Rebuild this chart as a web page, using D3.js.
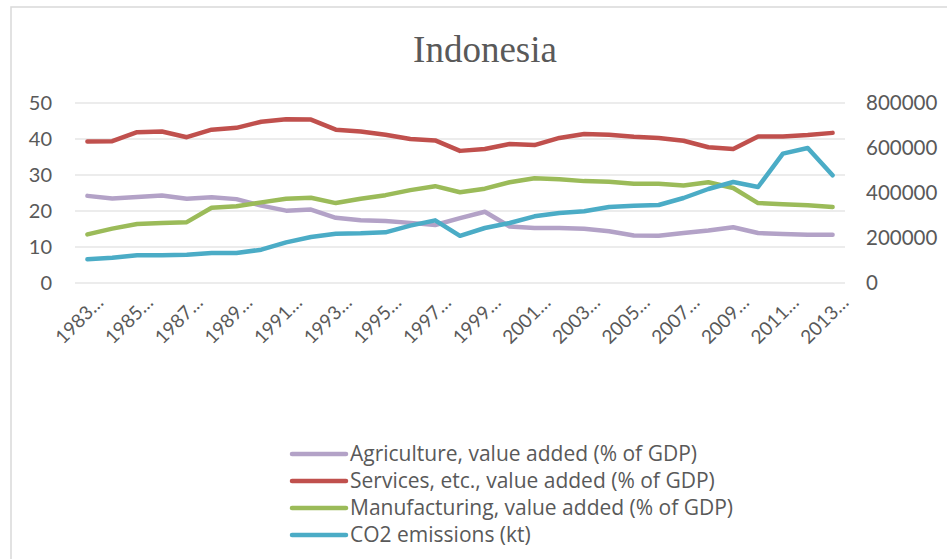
<!DOCTYPE html>
<html>
<head>
<meta charset="utf-8">
<script src="https://cdn.jsdelivr.net/npm/d3@7"></script>
<style>
  html, body { margin: 0; padding: 0; background: #fff; }
  svg { display: block; }
  text { font-family: Lato, "Open Sans", sans-serif; fill: #595959; }
</style>
</head>
<body>
<svg id="chart" width="947" height="559"></svg>
<script>
// Indonesia: sector value added (% of GDP) and CO2 emissions (kt), 1983-2013
const years = d3.range(1983, 2014);
const yearLabels = years.filter((y, i) => i % 2 === 0).map(String);

const agriculture = [24.2, 23.5, 23.9, 24.3, 23.4, 23.8, 23.3, 21.5, 20.1, 20.4,
  18.1, 17.4, 17.2, 16.7, 16.1, 18.0, 19.8, 15.7, 15.3, 15.3,
  15.1, 14.4, 13.2, 13.1, 13.9, 14.6, 15.5, 13.9, 13.6, 13.4, 13.4];
const services = [39.3, 39.4, 41.9, 42.1, 40.5, 42.6, 43.1, 44.8, 45.5, 45.4,
  42.6, 42.1, 41.2, 40.0, 39.6, 36.7, 37.2, 38.6, 38.3, 40.3,
  41.4, 41.2, 40.6, 40.3, 39.5, 37.7, 37.2, 40.7, 40.7, 41.1, 41.7];
const manufacturing = [13.5, 15.1, 16.4, 16.7, 16.9, 20.9, 21.3, 22.4, 23.4, 23.7,
  22.2, 23.4, 24.4, 25.8, 26.9, 25.2, 26.2, 28.0, 29.1, 28.8,
  28.3, 28.1, 27.6, 27.6, 27.1, 28.0, 26.4, 22.2, 21.9, 21.6, 21.1];
const co2 = [105200, 112600, 123000, 123000, 125900, 133300, 133300, 148100, 180700, 204400,
  219300, 220700, 225200, 254800, 278500, 209600, 244400, 266700, 296300, 311100,
  318500, 337800, 343700, 346700, 377800, 417800, 448900, 426700, 574800, 600000, 478500];

const leftTicks = [0, 10, 20, 30, 40, 50];
const rightTicks = [0, 200000, 400000, 600000, 800000];

const series = [
  { name: "Agriculture, value added (% of GDP)", values: agriculture, axis: "left", color: "#b3a2c7" },
  { name: "Services, etc., value added (% of GDP)", values: services, axis: "left", color: "#c0504d" },
  { name: "Manufacturing, value added (% of GDP)", values: manufacturing, axis: "left", color: "#9bbb59" },
  { name: "CO2 emissions (kt)", values: co2, axis: "right", color: "#4bacc6" }
];

const svg = d3.select("#chart");
const W = 947, H = 559;

// chart frame
svg.append("rect")
  .attr("x", 11).attr("y", 7)
  .attr("width", W + 10).attr("height", H + 10)
  .attr("fill", "#fff").attr("stroke", "#d9d9d9").attr("stroke-width", 1.5);

svg.append("text")
  .attr("x", 485).attr("y", 62)
  .attr("text-anchor", "middle")
  .style("font-family", "'Liberation Serif', 'Times New Roman', serif")
  .style("font-size", "37px")
  .text("Indonesia");

const plot = { left: 75, right: 845, top: 103, bottom: 283 };
const step = (plot.right - plot.left) / years.length;

const x = d3.scalePoint()
  .domain(years)
  .range([plot.left + step / 2, plot.right - step / 2]);
const yL = d3.scaleLinear().domain([0, 50]).range([plot.bottom, plot.top]);
const yR = d3.scaleLinear().domain([0, 800000]).range([plot.bottom, plot.top]);

// gridlines
svg.append("g")
  .selectAll("line")
  .data(leftTicks)
  .join("line")
  .attr("x1", plot.left).attr("x2", plot.right)
  .attr("y1", d => yL(d)).attr("y2", d => yL(d))
  .attr("stroke", "#d9d9d9").attr("stroke-width", 1.2);

// left axis labels
const leftAxis = d3.axisLeft(yL).tickValues(leftTicks).tickSize(0).tickPadding(0);
svg.append("g")
  .attr("transform", `translate(52,0)`)
  .call(leftAxis)
  .call(g => g.select(".domain").remove())
  .selectAll("text")
  .style("font-size", "20px").style("font-family", "Lato, sans-serif").attr("fill", "#595959");

// right axis labels
const rightAxis = d3.axisRight(yR).tickValues(rightTicks).tickFormat(d3.format("d"))
  .tickSize(0).tickPadding(0);
svg.append("g")
  .attr("transform", `translate(866,0)`)
  .call(rightAxis)
  .call(g => g.select(".domain").remove())
  .selectAll("text")
  .style("font-size", "20.5px").style("font-family", "Lato, sans-serif").attr("fill", "#595959");

// category labels, every second year, rotated
const bottomAxis = d3.axisBottom(x)
  .tickValues(years.filter((y, i) => i % 2 === 0))
  .tickFormat(d => yearLabels[years.indexOf(d) / 2] + "\u2026")
  .tickSize(0);
svg.append("g")
  .attr("transform", `translate(0,${plot.bottom})`)
  .call(bottomAxis)
  .call(g => g.select(".domain").remove())
  .selectAll("text")
  .style("font-size", "19px").style("font-family", "Lato, sans-serif").attr("fill", "#595959")
  .attr("text-anchor", "end")
  .attr("dy", "0.35em").attr("y", 0)
  .attr("transform", "translate(12,16) rotate(-45)");

// series lines
const lineFor = s => d3.line()
  .x((d, i) => x(years[i]))
  .y(d => (s.axis === "left" ? yL(d) : yR(d)));

svg.append("g")
  .selectAll("path")
  .data(series)
  .join("path")
  .attr("d", s => lineFor(s)(s.values))
  .attr("fill", "none")
  .attr("stroke", s => s.color)
  .attr("stroke-width", 4.5)
  .attr("stroke-linejoin", "round")
  .attr("stroke-linecap", "round");

// legend
const legend = svg.append("g").attr("transform", "translate(292,454)");
const rows = legend.selectAll("g")
  .data(series)
  .join("g")
  .attr("transform", (d, i) => `translate(0,${i * 27})`);
rows.append("line")
  .attr("x1", 0).attr("x2", 54)
  .attr("stroke", d => d.color).attr("stroke-width", 4.5)
  .attr("stroke-linecap", "round");
rows.append("text")
  .attr("x", 58).attr("dy", "0.35em")
  .style("font-family", "'Open Sans', Lato, sans-serif")
  .style("font-size", "21px")
  .text(d => d.name);
</script>
</body>
</html>
